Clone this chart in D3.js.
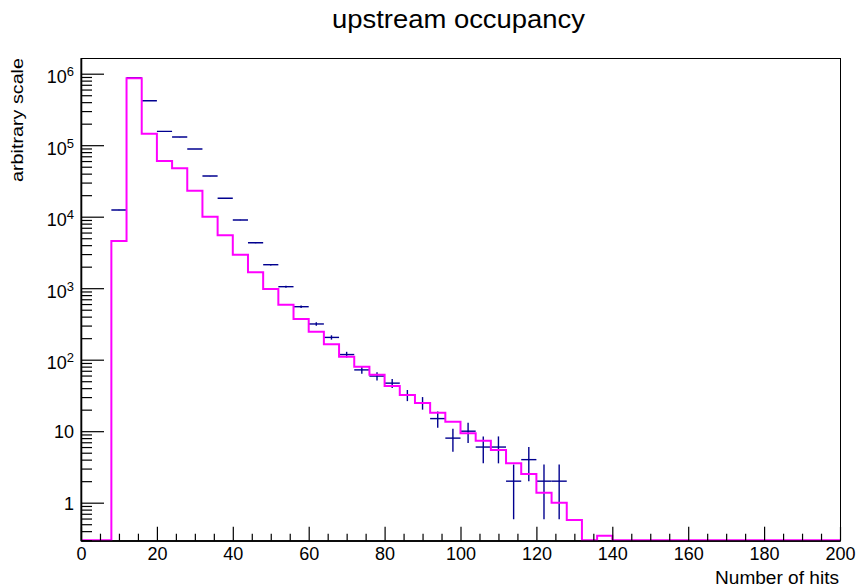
<!DOCTYPE html>
<html>
<head>
<meta charset="utf-8">
<script src="https://cdn.jsdelivr.net/npm/d3@7/dist/d3.min.js"></script>
<style>
html,body{margin:0;padding:0;background:#fff;}
svg{display:block;}
text{font-family:"Liberation Sans",Arial,Helvetica,sans-serif;fill:#000;}
</style>
</head>
<body>
<svg id="chart" width="858" height="588"></svg>
<script>
// ---- data ----
const binWidth = 4;
const xRange = [0, 200];
const yRange = [0.294, 1.658e6];
// measured data (blue points, counts per bin, bins of width 4 starting at 0)
const dataCounts = [0, 0, 12400, 880000, 419000, 156000, 130000, 88500, 37000, 18100,
  9000, 4320, 2130, 1050, 551, 316, 205, 118, 72, 59,
  47, 32, 25, 15, 8, 10, 6, 6, 2, 4,
  2, 2, 0, 0, 0, 0, 0, 0, 0, 0,
  0, 0, 0, 0, 0, 0, 0, 0, 0, 0];
// simulated histogram (magenta step line)
const mcCounts = [0, 0, 4570, 862000, 145000, 60000, 47500, 23100, 10000, 5500,
  2940, 1670, 975, 588, 371, 246, 164, 110, 79.8, 61.7,
  42.9, 32.1, 24.8, 18.1, 13.6, 9.35, 7.36, 5.46, 3.56, 2.52,
  1.38, 1.0, 0.573, 0, 0.345, 0, 0, 0, 0, 0,
  0, 0, 0, 0, 0, 0, 0, 0, 0, 0];
const xMajorTicks = [0, 20, 40, 60, 80, 100, 120, 140, 160, 180, 200];
const yMajorTicks = [1, 10, 100, 1000, 10000, 100000, 1000000];
const yTickLabels = [["1", ""], ["10", ""], ["10", "2"], ["10", "3"], ["10", "4"], ["10", "5"], ["10", "6"]];
const titleText = "upstream occupancy";
const xTitle = "Number of hits";
const yTitle = "arbitrary scale";

// ---- layout ----
const svg = d3.select("#chart");
const L = 81, R = 840, T = 58, B = 540.7;
const x = d3.scaleLinear().domain(xRange).range([L, R]);
const y = d3.scaleLog().domain(yRange).range([B, T]);
const yc = v => y(Math.max(v, yRange[0]));

// frame
svg.append("rect").attr("x", L).attr("y", T + 0.5).attr("width", R - L + 0.5).attr("height", B - T - 0.5)
  .attr("fill", "none").attr("stroke", "#000").attr("stroke-width", 1);

// clip for marks
svg.append("clipPath").attr("id", "clip").append("rect")
  .attr("x", L).attr("y", T).attr("width", R - L).attr("height", B - T + 1);

const marks = svg.append("g").attr("clip-path", "url(#clip)");

// data error bars
const pts = dataCounts.map((v, i) => ({lo: i * binWidth, hi: (i + 1) * binWidth, v})).filter(d => d.v > 0);
const blue = "#00008f";
marks.selectAll("line.h").data(pts).enter().append("line")
  .attr("x1", d => x(d.lo)).attr("x2", d => x(d.hi))
  .attr("y1", d => y(d.v)).attr("y2", d => y(d.v))
  .attr("stroke", blue).attr("stroke-width", 1.4);
marks.selectAll("line.v").data(pts).enter().append("line")
  .attr("x1", d => x((d.lo + d.hi) / 2)).attr("x2", d => x((d.lo + d.hi) / 2))
  .attr("y1", d => yc(d.v - Math.sqrt(d.v))).attr("y2", d => yc(d.v + Math.sqrt(d.v)))
  .attr("stroke", blue).attr("stroke-width", 1.4);

// MC step histogram
const stepPts = [];
mcCounts.forEach((v, i) => { stepPts.push([i * binWidth, v]); stepPts.push([(i + 1) * binWidth, v]); });
const line = d3.line().x(d => x(d[0])).y(d => Math.min(yc(d[1]), B - 0.5));
marks.append("path").attr("d", line(stepPts)).attr("fill", "none")
  .attr("stroke", "#ff00ff").attr("stroke-width", 2);

// x axis
const xMinor = d3.range(xRange[0], xRange[1] + 0.001, 5).filter(v => v % 20 !== 0);
const gxMinor = svg.append("g").attr("transform", `translate(0,${B})`)
  .call(d3.axisBottom(x).tickValues(xMinor).tickSizeInner(-7).tickSizeOuter(0).tickFormat(""));
const gx = svg.append("g").attr("transform", `translate(0,${B})`)
  .call(d3.axisBottom(x).tickValues(xMajorTicks).tickSizeInner(-14).tickSizeOuter(0).tickPadding(7));
[gx, gxMinor].forEach(g => { g.select(".domain").attr("stroke", "#000").attr("stroke-width", 1.3); g.selectAll(".tick line").attr("stroke", "#000").attr("stroke-width", 1.2); });
gx.selectAll(".tick text").attr("font-size", 18).attr("font-family", "Liberation Sans, Arial, sans-serif").attr("fill", "#000");

// y axis
const yMinor = [];
for (let e = -1; e <= 6; e++) for (let k = 2; k <= 9; k++) { const v = k * Math.pow(10, e); if (v >= yRange[0] && v <= yRange[1]) yMinor.push(v); }
const gyMinor = svg.append("g").attr("transform", `translate(${L},0)`)
  .call(d3.axisLeft(y).tickValues(yMinor).tickSizeInner(-11).tickSizeOuter(0).tickFormat(""));
const gy = svg.append("g").attr("transform", `translate(${L},0)`)
  .call(d3.axisLeft(y).tickValues(yMajorTicks).tickSizeInner(-23).tickSizeOuter(0).tickPadding(7).tickFormat(""));
[gy, gyMinor].forEach(g => { g.select(".domain").attr("stroke", "#000").attr("stroke-width", 1.3); g.selectAll(".tick line").attr("stroke", "#000").attr("stroke-width", 1.2); });
gy.selectAll(".tick text").each(function(d, i) {
  const t = d3.select(this);
  const lab = yTickLabels[i];
  t.text(null).attr("font-size", 18).attr("fill", "#000").attr("font-family", "Liberation Sans, Arial, sans-serif")
    .attr("x", -7).attr("dy", lab[1] ? "0.5em" : "0.36em");
  t.append("tspan").text(lab[0]);
  if (lab[1]) t.append("tspan").attr("font-size", 13).attr("dy", "-0.55em").text(lab[1]);
});

// titles
svg.append("text").attr("x", 458.5).attr("y", 28).attr("text-anchor", "middle")
  .attr("font-size", 25).attr("textLength", 253).attr("lengthAdjust", "spacingAndGlyphs").text(titleText);
svg.append("text").attr("x", 839).attr("y", 584).attr("text-anchor", "end")
  .attr("font-size", 18).attr("textLength", 124).attr("lengthAdjust", "spacingAndGlyphs").text(xTitle);
svg.append("text").attr("transform", "translate(23,58) rotate(-90)").attr("text-anchor", "end")
  .attr("font-size", 17).attr("textLength", 124).attr("lengthAdjust", "spacingAndGlyphs").text(yTitle);
</script>
</body>
</html>
